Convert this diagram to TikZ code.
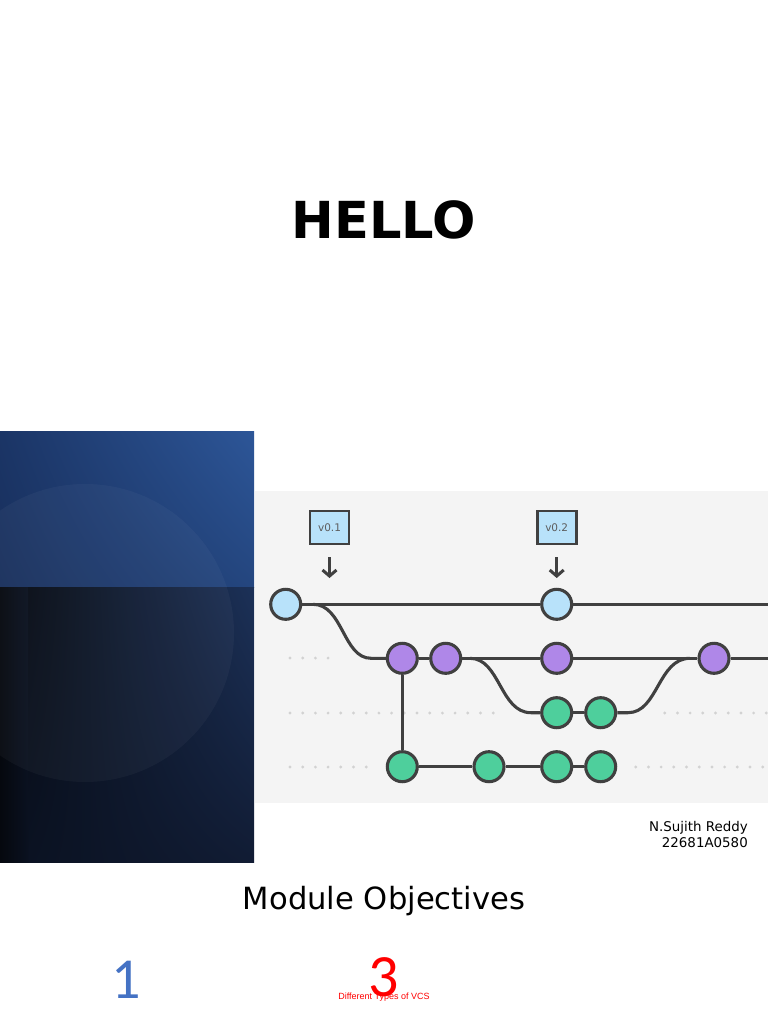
\documentclass[tikz,border=0pt]{standalone}
\usepackage{fontspec}
\setmainfont{DejaVu Sans}
\newfontfamily\carlito{Carlito}
\newfontfamily\libsans{Liberation Sans}
\usetikzlibrary{arrows.meta,shadings}
\definecolor{edgec}{HTML}{404040}
\definecolor{bluec}{HTML}{B8E2FA}
\definecolor{purplec}{HTML}{AF87E8}
\definecolor{greenc}{HTML}{4ECF9C}
\definecolor{panelc}{HTML}{F4F4F4}
\definecolor{dotc}{HTML}{D2D2D2}
\definecolor{numblue}{HTML}{4472C4}
\definecolor{topA}{HTML}{2D5698}
\definecolor{topB}{HTML}{1B3566}
\definecolor{topC}{HTML}{24467F}
\definecolor{topD}{HTML}{182F5C}
\definecolor{botA}{HTML}{04070D}
\definecolor{botB}{HTML}{1C3158}
\definecolor{botC}{HTML}{0A1120}
\definecolor{botD}{HTML}{111C34}
\definecolor{stripc}{HTML}{05080E}
\tikzset{
  commit/.style={circle,draw=edgec,line width=3.1pt,minimum size=30pt,inner sep=0pt},
  cblue/.style={commit,fill=bluec},
  cpurple/.style={commit,fill=purplec},
  cgreen/.style={commit,fill=greenc},
  tagbox/.style={rectangle,draw=edgec,line width=2.8pt,fill=bluec,minimum width=39pt,minimum height=33pt,inner sep=0pt,font=\fontsize{10.5}{12}\selectfont,text=edgec!85},
  conn/.style={draw=edgec,line width=3.1pt},
  tagarrow/.style={draw=edgec,line width=3pt,-{Straight Barb[length=6pt,width=14pt,line width=3pt]}},
  dot/.style={fill=dotc},
}
\begin{document}
\begin{tikzpicture}[x=1pt,y=-1pt]
\useasboundingbox (0,0) rectangle (768,1024);
\fill[white] (0,0) rectangle (768,1024);
% title
\node (hello) at (384,220) {\fontsize{51}{60}\selectfont\bfseries HELLO};
% left dark panel
\shade[upper left=topB,upper right=topA,lower left=topD,lower right=topC] (0,431) rectangle (254,587);
\shade[upper left=botA,upper right=botB,lower left=botC,lower right=botD] (0,587) rectangle (254,862);
\shade[left color=stripc,right color=botC] (0,587) rectangle (28,862);
\begin{scope}
\clip (0,431) rectangle (254,862);
\fill[white,opacity=0.035] (85,633) circle (149);
\end{scope}
% diagram panel
\fill[panelc] (255,491) rectangle (768,803);
% dotted rails
\foreach \x in {0,...,3} \fill[dot] (290+12.7*\x,658) circle (1.6);
\foreach \x in {0,...,16} \fill[dot] (290+12.7*\x,713) circle (1.6);
\foreach \x in {0,...,8} \fill[dot] (664.7+12.7*\x,713) circle (1.6);
\foreach \x in {0,...,6} \fill[dot] (290+12.7*\x,767) circle (1.6);
\foreach \x in {0,...,10} \fill[dot] (635.7+12.7*\x,767) circle (1.6);
% tags
\node[tagbox] (t1) at (329.5,527.5) {v0.1};
\node[tagbox] (t2) at (556.7,527.5) {v0.2};
\coordinate (a1s) at (329.5,557);
\coordinate (a1e) at (329.5,578);
\coordinate (a2s) at (556.7,557);
\coordinate (a2e) at (556.7,578);
\draw[tagarrow] (a1s) -- (a1e);
\draw[tagarrow] (a2s) -- (a2e);
% commits
\node[cblue] (m1) at (285.7,604.3) {};
\node[cblue] (m2) at (556.7,604.3) {};
\node[cpurple] (p1) at (402.3,658.3) {};
\node[cpurple] (p2) at (445.7,658.3) {};
\node[cpurple] (p3) at (556.7,658.3) {};
\node[cpurple] (p4) at (714,658.3) {};
\node[cgreen] (f1) at (556.7,712.7) {};
\node[cgreen] (f2) at (600.7,712.7) {};
\node[cgreen] (g1) at (402.3,766.7) {};
\node[cgreen] (g2) at (489,766.7) {};
\node[cgreen] (g3) at (556.7,766.7) {};
\node[cgreen] (g4) at (600.7,766.7) {};
\coordinate (mend) at (768,604.3);
\coordinate (pend) at (768,658.3);
\coordinate (b1s) at (313,604.3);
\coordinate (b2s) at (470,658.3);
\coordinate (b3e) at (690,658.3);
% connectors
\draw[conn] (m1) -- (m2) -- (mend);
\draw[conn] (b1s) .. controls (343,604.3) and (343,658.3) .. (371,658.3) -- (p1);
\draw[conn] (p1) -- (p2) -- (p3) -- (p4) -- (pend);
\draw[conn] (b2s) .. controls (500,658.3) and (500,712.7) .. (531,712.7) -- (f1);
\draw[conn] (f1) -- (f2);
\draw[conn] (f2) -- (628,712.7) .. controls (658,712.7) and (658,658.3) .. (b3e);
\draw[conn] (p1) -- (g1);
\draw[conn] (g1) -- (g2) -- (g3) -- (g4);
% author
\node[anchor=east,font=\fontsize{13.4}{16}\selectfont,align=right,inner sep=0pt] (author) at (748,834) {N.Sujith Reddy\\22681A0580};
% module objectives
\node (mo) at (384,901) {\fontsize{30.6}{36}\selectfont Module Objectives};
\node[text=numblue] (n1) at (126,980) {\carlito\fontsize{58}{60}\selectfont 1};
\node[text=red] (n3) at (384,977) {\carlito\fontsize{60}{62}\selectfont 3};
\node[text=red] (vcs) at (384,997) {\libsans\fontsize{9}{10}\selectfont Different Types of VCS};
\end{tikzpicture}
\end{document}
